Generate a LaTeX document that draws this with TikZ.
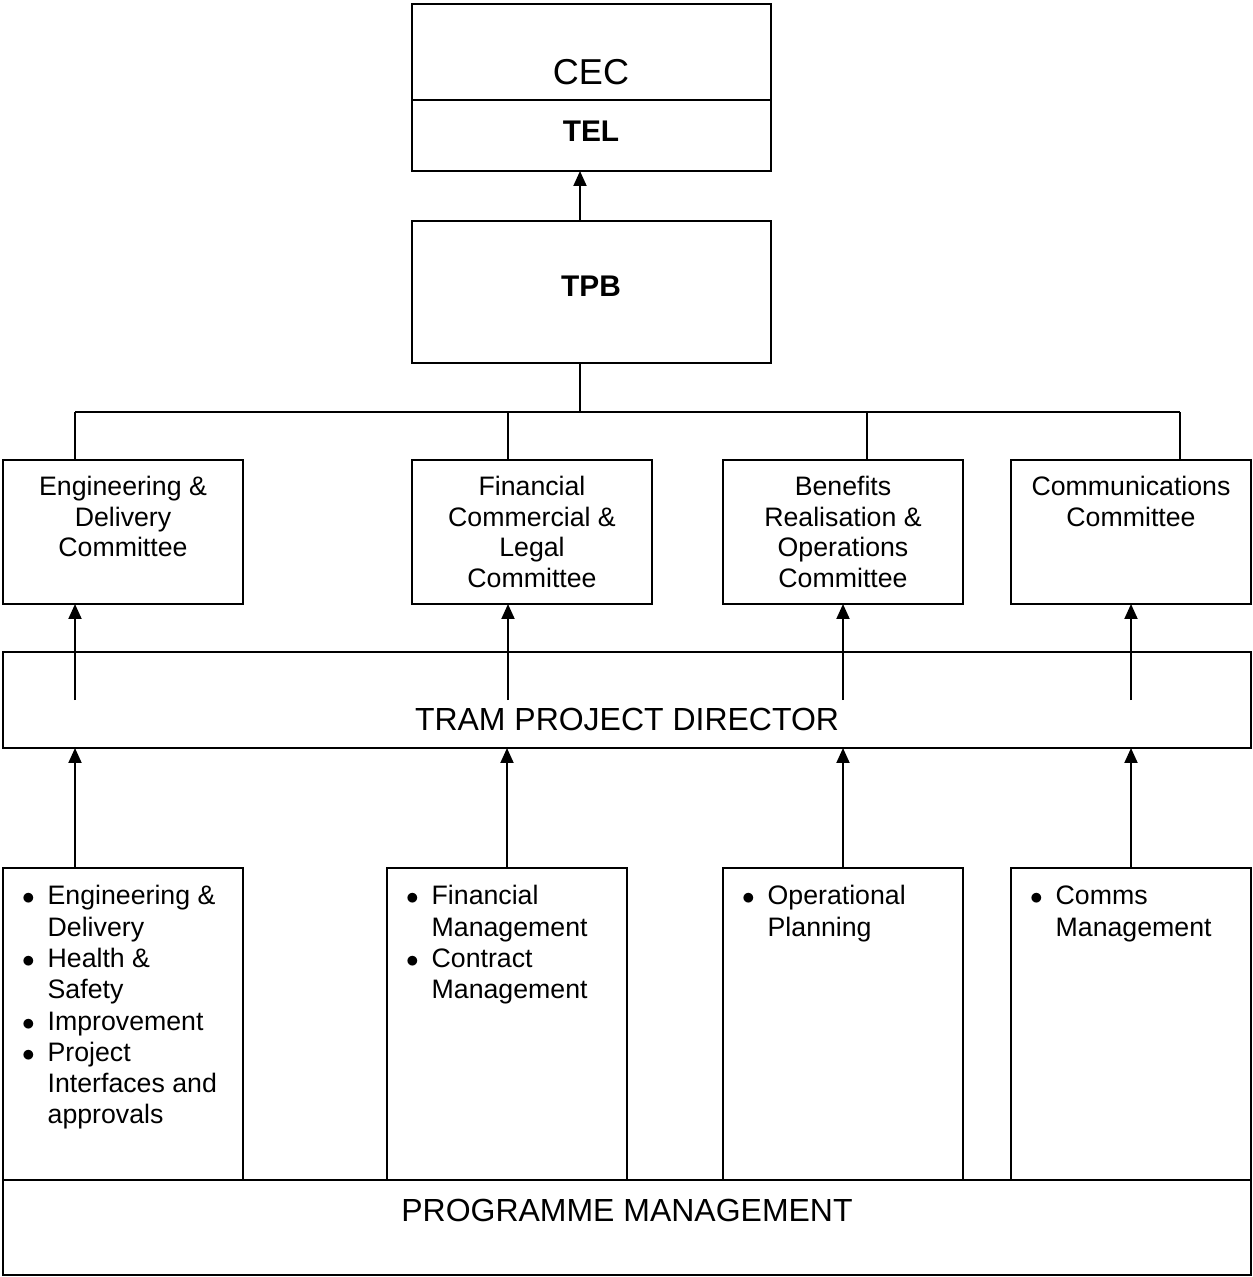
\documentclass[tikz,border=0pt]{standalone}
\usepackage{fontspec}
\setmainfont{Liberation Sans}
\usetikzlibrary{arrows.meta,positioning}

\begin{document}
\begin{tikzpicture}[
    x=0.02cm, y=-0.02cm,
    line width=1.1pt,
    >={Triangle[length=0.3cm,width=0.26cm]},
    every node/.style={inner sep=0pt, outer sep=0pt},
    box/.style={draw, line width=1.1pt},
    cttee/.style={box, minimum width=4.8cm, minimum height=2.88cm},
    dept/.style={box, minimum width=4.8cm, minimum height=6.24cm},
    wide/.style={box, minimum width=24.96cm, minimum height=1.92cm},
    ctext/.style={align=center, font=\fontsize{15.2}{17.5}\selectfont},
    ltext/.style={anchor=north west, font=\fontsize{15.2}{17.8}\selectfont},
    btext/.style={font=\fontsize{18.2}{21}\selectfont}
]
\useasboundingbox (0,0) rectangle (1253,1277);

% Top: CEC / TEL and TPB
\node[box, minimum width=7.18cm, minimum height=3.34cm] (cec) at (591.5,87.5) {};
\draw (cec.west |- 0,100) -- (cec.east |- 0,100);
\node[font=\fontsize{20.5}{24}\selectfont] (cectxt) at (591,72) {CEC};
\node[font=\fontsize{17}{20}\selectfont\bfseries] (teltxt) at (591,131) {TEL};

\node[box, minimum width=7.18cm, minimum height=2.84cm] (tpb) at (591.5,292) {};
\node[font=\fontsize{17}{20}\selectfont\bfseries] (tpbtxt) at (591,286) {TPB};
\draw[->] ([xshift=-0.23cm]tpb.north) -- ([xshift=-0.23cm]cec.south);

% Committees
\node[cttee] (eng) at (123,532) {};
\node[cttee] (fcl) at (532,532) {};
\node[cttee] (bro) at (843,532) {};
\node[cttee] (com) at (1131,532) {};
\node[ctext, below=0.32cm of eng.north] (engtxt) {Engineering \&\\Delivery\\Committee};
\node[ctext, below=0.32cm of fcl.north] (fcltxt) {Financial\\Commercial \&\\Legal\\Committee};
\node[ctext, below=0.32cm of bro.north] (brotxt) {Benefits\\Realisation \&\\Operations\\Committee};
\node[ctext, below=0.32cm of com.north] (comtxt) {Communications\\Committee};

% Bus from TPB to the committees
\coordinate (busL) at (75,412);
\coordinate (busR) at (1180,412);
\draw ([xshift=-0.23cm]tpb.south) -- ([xshift=-0.23cm]tpb.south |- busL);
\draw (busL) -- (busR);
\foreach \n/\dx in {eng/-0.96, fcl/-0.48, bro/0.48, com/0.98}
    \draw ([xshift=\dx cm]\n.north) -- ([xshift=\dx cm]\n.north |- busL);

% Tram project director
\node[wide] (tpd) at (627,700) {};
\node[btext] (tpdtxt) at (627,719) {TRAM PROJECT DIRECTOR};
\foreach \n/\dx in {eng/-0.96, fcl/-0.48, bro/0, com/0}
    \draw[->] ([xshift=\dx cm]\n.south |- tpd.center) -- ([xshift=\dx cm]\n.south);

% Departments
\node[dept] (engb) at (123,1024) {};
\node[dept] (finb) at (507,1024) {};
\node[dept] (opsb) at (843,1024) {};
\node[dept] (cmsb) at (1131,1024) {};
\foreach \m/\dy in {engb/-0.96, finb/0, opsb/0, cmsb/0}
    \draw[->] ([xshift=\dy cm]\m.north) -- ([xshift=\dy cm]\m.north |- tpd.south);

\node[ltext] (engl) at ([xshift=0.38cm, yshift=-0.3cm]engb.north west) {%
  \begin{tabular}{@{}l@{\hspace{0.26cm}}l@{}}
  $\bullet$ & Engineering \& \\
            & Delivery \\
  $\bullet$ & Health \& \\
            & Safety \\
  $\bullet$ & Improvement \\
  $\bullet$ & Project \\
            & Interfaces and \\
            & approvals
  \end{tabular}};
\node[ltext] (finl) at ([xshift=0.38cm, yshift=-0.3cm]finb.north west) {%
  \begin{tabular}{@{}l@{\hspace{0.26cm}}l@{}}
  $\bullet$ & Financial \\
            & Management \\
  $\bullet$ & Contract \\
            & Management
  \end{tabular}};
\node[ltext] (opsl) at ([xshift=0.38cm, yshift=-0.3cm]opsb.north west) {%
  \begin{tabular}{@{}l@{\hspace{0.26cm}}l@{}}
  $\bullet$ & Operational \\
            & Planning
  \end{tabular}};
\node[ltext] (cmsl) at ([xshift=0.38cm, yshift=-0.3cm]cmsb.north west) {%
  \begin{tabular}{@{}l@{\hspace{0.26cm}}l@{}}
  $\bullet$ & Comms \\
            & Management
  \end{tabular}};

% Programme management
\node[wide, minimum height=1.9cm] (pm) at (627,1227.5) {};
\node[btext] (pmtxt) at (627,1210) {PROGRAMME MANAGEMENT};
\end{tikzpicture}
\end{document}
